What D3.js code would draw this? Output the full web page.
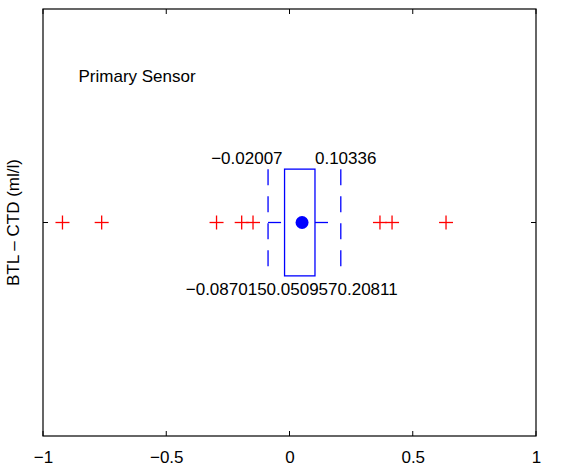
<!DOCTYPE html>
<html>
<head>
<meta charset="utf-8">
<script src="https://cdn.jsdelivr.net/npm/d3@7"></script>
<style>
  html, body { margin: 0; padding: 0; background: #fff; }
  svg text { font-family: "Liberation Sans", Arial, sans-serif; }
</style>
</head>
<body>
<div id="chart"></div>
<script>
// ---- data ----
const xTicks = [-1, -0.5, 0, 0.5, 1];
const xTickLabels = ["\u22121", "\u22120.5", "0", "0.5", "1"];
const boxStats = { q1: -0.02007, q3: 0.10336, median: 0.050957, whiskerLow: -0.087015, whiskerHigh: 0.20811 };
const boxLabelsTop = ["\u22120.02007", "0.10336"];
const boxLabelsBottom = ["\u22120.087015", "0.050957", "0.20811"];
const outliers = [-0.921, -0.762, -0.296, -0.194, -0.148, 0.367, 0.416, 0.635];
const titleText = "Primary Sensor";
const yLabel = "BTL \u2013 CTD (ml/l)";

// ---- layout ----
const W = 566, H = 472;
const margin = { left: 43, right: 30, top: 9, bottom: 36 };
const fs = 17;

const svg = d3.select("#chart").append("svg").attr("width", W).attr("height", H);

const x = d3.scaleLinear().domain([-1, 1]).range([margin.left, W - margin.right]);
const y = d3.scaleLinear().domain([0, 2]).range([H - margin.bottom, margin.top]);

const blue = "#0000ff", red = "#ff0000";

const g = svg.append("g");
g.append("rect")
  .attr("x", x(-1)).attr("y", y(2))
  .attr("width", x(1) - x(-1)).attr("height", y(0) - y(2))
  .attr("fill", "none").attr("stroke", "#000").attr("stroke-width", 1.2);

const xAxis = d3.axisBottom(x).tickValues(xTicks).tickSize(0).tickPadding(15)
  .tickFormat((d, i) => xTickLabels[i]);
const ax = svg.append("g").attr("transform", `translate(0,${y(0)})`).call(xAxis);
ax.select(".domain").remove();
ax.selectAll("text").attr("font-size", fs).attr("fill", "#000")
  .attr("font-family", "Liberation Sans, Arial, sans-serif");
xTicks.forEach(t => {
  g.append("line").attr("x1", x(t)).attr("x2", x(t)).attr("y1", y(0)).attr("y2", y(0) - 5).attr("stroke", "#000");
  g.append("line").attr("x1", x(t)).attr("x2", x(t)).attr("y1", y(2)).attr("y2", y(2) + 5).attr("stroke", "#000");
});
g.append("line").attr("x1", x(-1)).attr("x2", x(-1) + 5).attr("y1", y(1)).attr("y2", y(1)).attr("stroke", "#000");
g.append("line").attr("x1", x(1)).attr("x2", x(1) - 5).attr("y1", y(1)).attr("y2", y(1)).attr("stroke", "#000");

svg.append("text")
  .attr("transform", `translate(19,${y(1)}) rotate(-90)`)
  .attr("text-anchor", "middle").attr("font-size", fs).text(yLabel);

svg.append("text").attr("x", x(-0.856)).attr("y", y(1.66))
  .attr("font-size", fs).text(titleText);

[boxStats.whiskerLow, boxStats.whiskerHigh].forEach(v => {
  g.append("line").attr("x1", x(v)).attr("x2", x(v))
    .attr("y1", y(1.25)).attr("y2", y(0.75))
    .attr("stroke", blue).attr("stroke-width", 1.3).attr("stroke-dasharray", "16,11");
});
g.append("line").attr("x1", x(boxStats.whiskerLow)).attr("x2", x(boxStats.whiskerLow) + 13)
  .attr("y1", y(1)).attr("y2", y(1)).attr("stroke", blue).attr("stroke-width", 1.3);
g.append("line").attr("x1", x(boxStats.q3)).attr("x2", x(boxStats.q3) + 13)
  .attr("y1", y(1)).attr("y2", y(1)).attr("stroke", blue).attr("stroke-width", 1.3);

g.append("rect")
  .attr("x", x(boxStats.q1)).attr("y", y(1.25))
  .attr("width", x(boxStats.q3) - x(boxStats.q1)).attr("height", y(0.75) - y(1.25))
  .attr("fill", "none").attr("stroke", blue).attr("stroke-width", 1.3);

g.append("circle").attr("cx", x(boxStats.median)).attr("cy", y(1)).attr("r", 6.5).attr("fill", blue);

const ps = 7;
outliers.forEach(v => {
  g.append("line").attr("x1", x(v) - ps).attr("x2", x(v) + ps).attr("y1", y(1)).attr("y2", y(1))
    .attr("stroke", red).attr("stroke-width", 1.3);
  g.append("line").attr("x1", x(v)).attr("x2", x(v)).attr("y1", y(1) - ps).attr("y2", y(1) + ps)
    .attr("stroke", red).attr("stroke-width", 1.3);
});

svg.append("text").attr("x", x(boxStats.q1) - 2).attr("y", y(1.25) - 5)
  .attr("text-anchor", "end").attr("font-size", fs).text(boxLabelsTop[0]);
svg.append("text").attr("x", x(boxStats.q3)).attr("y", y(1.25) - 5)
  .attr("text-anchor", "start").attr("font-size", fs).text(boxLabelsTop[1]);

const midLabel = svg.append("text").attr("x", x(boxStats.median)).attr("y", y(0.75) + 19)
  .attr("text-anchor", "middle").attr("font-size", fs).text(boxLabelsBottom[1]);
const mb = midLabel.node().getBBox();
svg.append("text").attr("x", mb.x).attr("y", y(0.75) + 19)
  .attr("text-anchor", "end").attr("font-size", fs).text(boxLabelsBottom[0]);
svg.append("text").attr("x", mb.x + mb.width).attr("y", y(0.75) + 19)
  .attr("text-anchor", "start").attr("font-size", fs).text(boxLabelsBottom[2]);
</script>
</body>
</html>
